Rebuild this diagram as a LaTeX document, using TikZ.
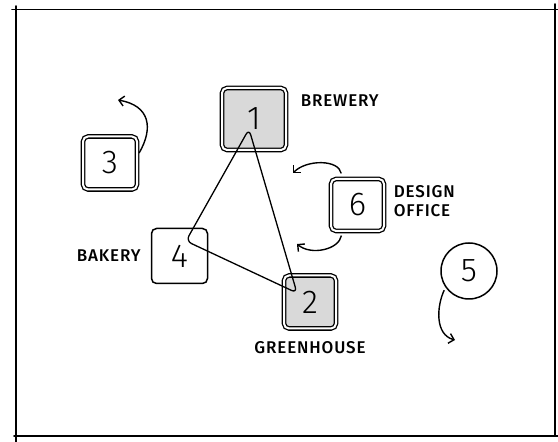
\documentclass[tikz,border=0pt]{standalone}
\usepackage{fontspec}
\setmainfont{Fira Sans}[LetterSpace=6]
\newfontfamily\digitfont{Fira Sans Light}
\newfontfamily\labelfont{Fira Sans Medium}[LetterSpace=5]
\usetikzlibrary{arrows.meta, positioning}
\definecolor{plotgray}{RGB}{217,217,217}

\begin{document}
\begin{tikzpicture}[x=1pt,y=1pt,>={Straight Barb[length=5pt,width=10pt]},
    site/.style={draw, rounded corners=5pt, line width=1.3pt, double=white,
        double distance=2pt, inner sep=0pt,
        font=\digitfont\fontsize{33}{33}\selectfont},
    shed/.style={draw, rounded corners=5pt, line width=1.5pt, inner sep=0pt,
        font=\digitfont\fontsize{33}{33}\selectfont},
    lbl/.style={inner sep=0pt, font=\labelfont\fontsize{17}{19}\selectfont}]
    \useasboundingbox (0,0) rectangle (558,442);

    % frame round the site
    \tikzset{frame/.style={line width=1.6pt, line cap=round}}
    \draw[frame] (12,432.5) -- (558,432.5);
    \draw[frame] (16,436) -- (16,0);
    \draw[frame] (14,6) -- (558,6);
    \draw[frame] (555,438) -- (555,6);

    \node[site, fill=plotgray, minimum width=64pt, minimum height=62pt] (S1) at (254,323) {1};
    \node[site, fill=plotgray, minimum width=52pt, minimum height=53pt] (S2) at (310,140) {2};
    \node[site, minimum width=54pt, minimum height=53pt] (S3) at (110,279) {3};
    \node[shed, minimum width=56pt, minimum height=55pt] (S4) at (179.5,186) {4};
    \node[draw, circle, line width=1.5pt, minimum size=56pt, inner sep=0pt,
        font=\digitfont\fontsize{33}{33}\selectfont] (S5) at (469,171) {5};
    \node[site, minimum width=53pt, minimum height=52pt] (S6) at (357.5,237) {6};

    \node[lbl, right=14pt of S1, yshift=18pt] (brewery) {BREWERY};
    \node[lbl, right=9pt of S6, yshift=4pt, align=left] (office) {DESIGN\\OFFICE};
    \node[lbl, left=10pt of S4] (bakery) {BAKERY};
    \node[lbl, below=12.5pt of S2] (greenhouse) {GREENHOUSE};

    % route between brewery, greenhouse and bakery
    \draw[line width=1.3pt, rounded corners=6pt]
        ([shift={(-5,-10)}]S1.center) -- ([shift={(-13,9)}]S2.center)
        -- ([shift={(6.5,15)}]S4.center) -- cycle;

    \coordinate (T3) at (118,342);
    \coordinate (T6a) at (293,269);
    \coordinate (T6b) at (297,198);
    \coordinate (T5) at (455,102);

    \tikzset{turn/.style={->, line width=1.4pt, shorten <=3pt}}
    \path (S3.15) edge [turn, out=60, in=-10, looseness=1.4] (T3);
    \path (S6.120) edge [turn, shorten <=5pt, out=100, in=45] (T6a);
    \path (S6.240) edge [turn, shorten <=4pt, out=-100, in=-40] (T6b);
    \path (S5.215) edge [turn, out=245, in=165] (T5);

\end{tikzpicture}
\end{document}
